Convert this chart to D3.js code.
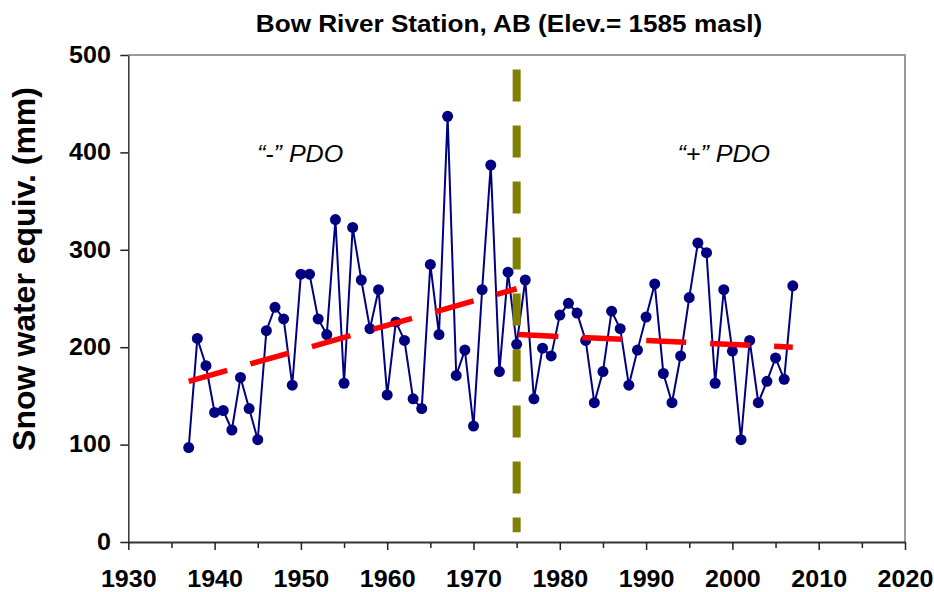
<!DOCTYPE html>
<html>
<head>
<meta charset="utf-8">
<script src="https://cdn.jsdelivr.net/npm/d3@7"></script>
<style>
  body { margin: 0; background: #fff; }
  text { font-family: "Liberation Sans", Arial, sans-serif; }
</style>
</head>
<body>
<div id="canvas"></div>
<script>
"use strict";

/* Data */
let years = [
  1937, 1938, 1939, 1940, 1941, 1942, 1943, 1944, 1945, 1946,
  1947, 1948, 1949, 1950, 1951, 1952, 1953, 1954, 1955, 1956,
  1957, 1958, 1959, 1960, 1961, 1962, 1963, 1964, 1965, 1966,
  1967, 1968, 1969, 1970, 1971, 1972, 1973, 1974, 1975, 1976,
  1977, 1978, 1979, 1980, 1981, 1982, 1983, 1984, 1985, 1986,
  1987, 1988, 1989, 1990, 1991, 1992, 1993, 1994, 1995, 1996,
  1997, 1998, 1999, 2000, 2001, 2002, 2003, 2004, 2005, 2006, 2007
];
let swe = [
  97, 209, 181, 133, 135, 115, 169, 137, 105, 217,
  241, 229, 161, 275, 275, 229, 213, 331, 163, 323,
  269, 219, 259, 151, 226, 207, 147, 137, 285, 213,
  437, 171, 197, 119, 259, 387, 175, 277, 203, 269,
  147, 199, 191, 233, 245, 235, 207, 143, 175, 237,
  219, 161, 197, 231, 265, 173, 143, 191, 251, 307,
  297, 163, 259, 196, 105, 207, 143, 165, 189, 167, 263
];

/* trend lines, one per PDO phase */
let trendNegYears = [1937, 1975];
let trendNegValues = [165, 260];
let trendPosYears = [1975.2, 2007];
let trendPosValues = [213, 200];

/* PDO shift marker */
let shiftYear = 1975;
let shiftRange = [485, 10];

let xTicks = [1930, 1940, 1950, 1960, 1970, 1980, 1990, 2000, 2010, 2020];
let xMinorTicks = [1935, 1945, 1955, 1965, 1975, 1985, 1995, 2005, 2015];
let yTicks = [0, 100, 200, 300, 400, 500];

let title = "Bow River Station, AB (Elev.= 1585 masl)";
let yTitle = "Snow water equiv. (mm)";
let phaseLabels = [
  { text: "\u201C-\u201D PDO", year: 1949.9 },
  { text: "\u201C+\u201D PDO", year: 1999 }
];

/* Drawing configuration */
let svgWidth = 934;
let svgHeight = 592;
let plotLeft = 128.3;
let plotRight = 905;
let plotTop = 55;
let plotBottom = 542;
let stretch = 1.09;

let svg = d3.select("#canvas")
  .append("svg")
  .attr("width", svgWidth)
  .attr("height", svgHeight);

let xScale = d3.scaleLinear()
  .domain([1930, 2020])
  .range([plotLeft, plotRight]);

let yScale = d3.scaleLinear()
  .domain([0, 500])
  .range([plotBottom, plotTop]);

/* frame: grey top and right edges */
svg.append("path")
  .attr("d", "M" + plotLeft + "," + plotTop + "H" + plotRight + "V" + plotBottom)
  .attr("fill", "none")
  .attr("stroke", "#9a9a9a")
  .attr("stroke-width", 2);

/* series line */
let line = d3.line()
  .x(function (d) { return xScale(d.x); })
  .y(function (d) { return yScale(d.y); });

let points = years.map(function (yr, i) { return { x: yr, y: swe[i] }; });

svg.append("path")
  .datum(points)
  .attr("d", line)
  .attr("fill", "none")
  .attr("stroke", "#000080")
  .attr("stroke-width", 2);

svg.selectAll("circle.pt")
  .data(points)
  .enter()
  .append("circle")
  .attr("class", "pt")
  .attr("cx", function (d) { return xScale(d.x); })
  .attr("cy", function (d) { return yScale(d.y); })
  .attr("r", 5.5)
  .attr("fill", "#000080");

/* red dashed trends */
[[trendNegYears, trendNegValues], [trendPosYears, trendPosValues]].forEach(function (t) {
  let seg = t[0].map(function (yr, i) { return { x: yr, y: t[1][i] }; });
  svg.append("path")
    .datum(seg)
    .attr("d", line)
    .attr("fill", "none")
    .attr("stroke", "#ff0000")
    .attr("stroke-width", 5.5)
    .attr("stroke-dasharray", "40,24");
});

/* olive dashed shift line */
svg.append("line")
  .attr("x1", xScale(shiftYear))
  .attr("x2", xScale(shiftYear))
  .attr("y1", yScale(shiftRange[0]))
  .attr("y2", yScale(shiftRange[1]))
  .attr("stroke", "#808000")
  .attr("stroke-width", 8)
  .attr("stroke-dasharray", "32,24");

/* x axis: minor ticks then labelled ticks */
let xMinor = svg.append("g")
  .attr("transform", "translate(0," + plotBottom + ")")
  .call(d3.axisBottom(xScale).tickValues(xMinorTicks).tickSize(6).tickFormat(""));
xMinor.select(".domain").remove();
xMinor.selectAll("line").attr("stroke", "#222").attr("stroke-width", 1.5);

let xAxis = svg.append("g")
  .attr("transform", "translate(0," + plotBottom + ")")
  .call(d3.axisBottom(xScale).tickValues(xTicks).tickSize(8).tickSizeOuter(0).tickFormat(d3.format("d")));
xAxis.select(".domain").attr("stroke", "#333").attr("stroke-width", 2);
xAxis.selectAll("line").attr("stroke", "#222").attr("stroke-width", 1.5);
xAxis.selectAll("text")
  .attr("y", 45)
  .attr("dy", 0)
  .attr("transform", "scale(" + stretch + ",1)")
  .attr("fill", "#000")
  .attr("font-size", "23px")
  .attr("font-weight", "bold")
  .attr("font-family", "'Liberation Sans', Arial, sans-serif");

/* y axis */
let yAxis = svg.append("g")
  .attr("transform", "translate(" + plotLeft + ",0)")
  .call(d3.axisLeft(yScale).tickValues(yTicks).tickSize(8).tickSizeOuter(0).tickPadding(8));
yAxis.select(".domain").attr("stroke", "#333").attr("stroke-width", 1.5);
yAxis.selectAll("line").attr("stroke", "#222").attr("stroke-width", 1.5);
yAxis.selectAll("text")
  .attr("transform", "scale(" + stretch + ",1)")
  .attr("fill", "#000")
  .attr("font-size", "23px")
  .attr("font-weight", "bold")
  .attr("font-family", "'Liberation Sans', Arial, sans-serif");

/* title */
svg.append("text")
  .attr("transform", "translate(509,32) scale(" + stretch + ",1)")
  .attr("text-anchor", "middle")
  .attr("font-size", "24px")
  .attr("font-weight", "bold")
  .text(title);

/* y axis title */
svg.append("text")
  .attr("transform", "translate(35,269) rotate(-90)")
  .attr("text-anchor", "middle")
  .attr("font-size", "32px")
  .attr("font-weight", "bold")
  .text(yTitle);

/* PDO phase labels */
phaseLabels.forEach(function (p) {
  svg.append("text")
    .attr("transform", "translate(" + xScale(p.year) + ",162) scale(" + stretch + ",1)")
    .attr("text-anchor", "middle")
    .attr("font-size", "23px")
    .attr("font-style", "italic")
    .text(p.text);
});
</script>
</body>
</html>
